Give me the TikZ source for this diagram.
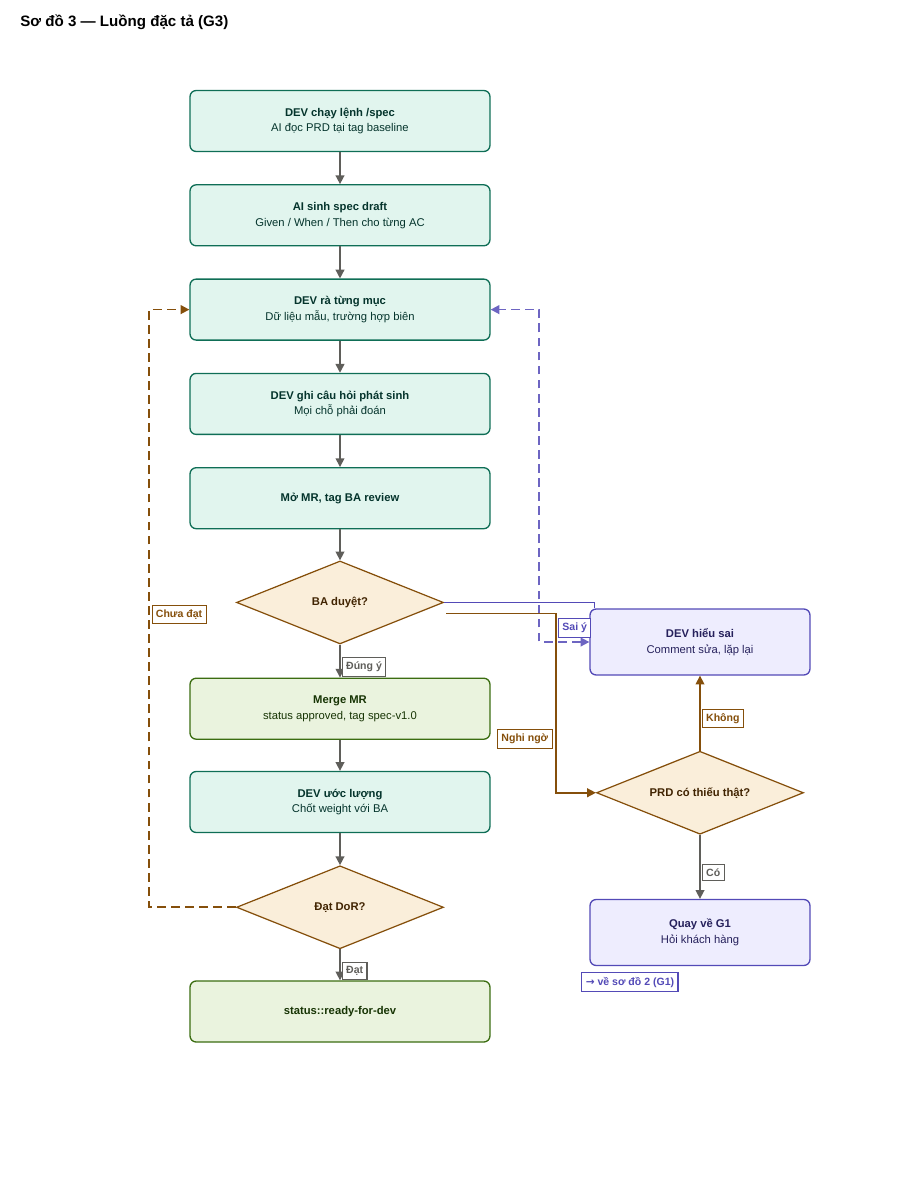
\documentclass[tikz,border=0pt]{standalone}
\usepackage{fontspec}
\setmainfont{Liberation Sans}
\newfontfamily\symfont{DejaVu Sans}
\usetikzlibrary{positioning, shapes.geometric, arrows.meta}

\definecolor{tealfill}{HTML}{E1F5EE}
\definecolor{tealline}{HTML}{0F6E56}
\definecolor{tealtext}{HTML}{04342C}
\definecolor{greenfill}{HTML}{EAF3DE}
\definecolor{greenline}{HTML}{3B6D11}
\definecolor{greentext}{HTML}{173404}
\definecolor{ambfill}{HTML}{FAEEDA}
\definecolor{ambline}{HTML}{854F0B}
\definecolor{ambtext}{HTML}{412402}
\definecolor{purfill}{HTML}{EEEDFE}
\definecolor{purline}{HTML}{534AB7}
\definecolor{purtext}{HTML}{26215C}
\definecolor{grayline}{HTML}{5F5E5A}

\tikzset{
  basebox/.style={rectangle, rounded corners=3.5pt, line width=0.75pt, align=center,
    minimum width=6cm, minimum height=1.22cm, font=\fontsize{6.4}{9}\selectfont},
  tealbox/.style={basebox, draw=tealline, fill=tealfill, text=tealtext},
  greenbox/.style={basebox, draw=greenline, fill=greenfill, text=greentext},
  purbox/.style={basebox, draw=purline, fill=purfill, text=purtext,
    minimum width=4.4cm, minimum height=1.32cm},
  decide/.style={diamond, aspect=2.5, draw=ambline, fill=ambfill, text=ambtext, line width=0.7pt,
    inner sep=0pt, minimum width=4.14cm, minimum height=1.66cm,
    font=\bfseries\fontsize{6.4}{8}\selectfont},
  tag/.style={rectangle, solid, fill=white, line width=0.6pt, inner xsep=2.2pt, inner ysep=2.4pt,
    font=\bfseries\fontsize{6}{7}\selectfont},
  gtag/.style={tag, draw=grayline, text=grayline},
  btag/.style={tag, draw=ambline, text=ambline},
  ptag/.style={tag, draw=purline, text=purline},
  flow/.style={draw=grayline, line width=0.85pt, -{Triangle[length=5pt, width=5pt]}},
}

\begin{document}
\begin{tikzpicture}[x=0.02cm, y=-0.02cm, node distance=0.64cm]
  \useasboundingbox (0,0) rectangle (900,1180);
  \node[anchor=west, inner sep=0pt, font=\bfseries\fontsize{8.6}{10}\selectfont] (title) at (20,22) {Sơ đồ 3 — Luồng đặc tả (G3)};

  % main column
  \node[tealbox] (spec) at (340,121) {\textbf{DEV chạy lệnh /spec}\\AI đọc PRD tại tag baseline};
  \node[tealbox, below=of spec] (draft) {\textbf{AI sinh spec draft}\\Given / When / Then cho từng AC};
  \node[tealbox, below=of draft] (review) {\textbf{DEV rà từng mục}\\Dữ liệu mẫu, trường hợp biên};
  \node[tealbox, below=of review] (ask) {\textbf{DEV ghi câu hỏi phát sinh}\\Mọi chỗ phải đoán};
  \node[tealbox, below=of ask] (mr) {\textbf{Mở MR, tag BA review}};
  \node[decide, below=0.62cm of mr] (ba) {BA duyệt?};
  \node[greenbox, below=0.66cm of ba] (merge) {\textbf{Merge MR}\\status approved, tag spec-v1.0};
  \node[tealbox, below=0.62cm of merge] (est) {\textbf{DEV ước lượng}\\Chốt weight với BA};
  \node[decide, below=of est] (dor) {Đạt DoR?};
  \node[greenbox, below=0.62cm of dor] (ready) {\textbf{status::ready-for-dev}};

  % right column
  \node[purbox] (hieu) at (700,642) {\textbf{DEV hiểu sai}\\Comment sửa, lặp lại};
  \node[decide, below=1.5cm of hieu] (prd) {PRD có thiếu thật?};
  \node[purbox, below=1.28cm of prd] (g1) {\textbf{Quay về G1}\\Hỏi khách hàng};
  \node[ptag, anchor=north west] (back) at ([shift={(-8,6)}]g1.south west) {{\symfont →} về sơ đồ 2 (G1)};

  % straight flow
  \draw[flow] (spec) -- (draft);
  \draw[flow] (draft) -- (review);
  \draw[flow] (review) -- (ask);
  \draw[flow] (ask) -- (mr);
  \draw[flow] (mr) -- (ba);
  \draw[flow] (ba) -- node[gtag, pos=0.68, anchor=west, xshift=1pt] {Đúng ý} (merge);
  \draw[flow] (merge) -- (est);
  \draw[flow] (est) -- (dor);
  \draw[flow] (dor) -- node[gtag, pos=0.7, anchor=west, xshift=1pt] {Đạt} (ready);
  \draw[flow] (prd) -- node[gtag, pos=0.59, anchor=west, xshift=1pt] {Có} (g1);
  \draw[flow, draw=ambline] (prd) -- node[btag, pos=0.43, anchor=west, xshift=1pt] {Không} (hieu);

  % branches from BA
  \draw[draw=purline, line width=0.75pt] (ba.east) -| ([shift={(5,0)}]hieu.north west);
  \node[ptag, anchor=east] (sai) at ([shift={(2,-14)}]hieu.west) {Sai ý};
  \draw[flow, draw=ambline] ([shift={(2,11)}]ba.east) -- ++(110,0)
    |- node[btag, pos=0.35, anchor=east, xshift=-2pt] {Nghi ngờ} (prd.west);

  % loops back
  \draw[draw=purline!85, line width=1pt, dash pattern=on 5pt off 3pt,
    {Triangle[length=5pt, width=5pt]}-{Triangle[length=5pt, width=5pt]}]
    (hieu.west) -- ++(-50,0) |- (review.east);
  \draw[draw=ambline, line width=1pt, dash pattern=on 5pt off 3pt,
    -{Triangle[length=5pt, width=5pt]}]
    (dor.west) -- ++(-87,0) |- node[btag, pos=0.245, anchor=west, xshift=1.5pt] {Chưa đạt} (review.west);
\end{tikzpicture}
\end{document}
